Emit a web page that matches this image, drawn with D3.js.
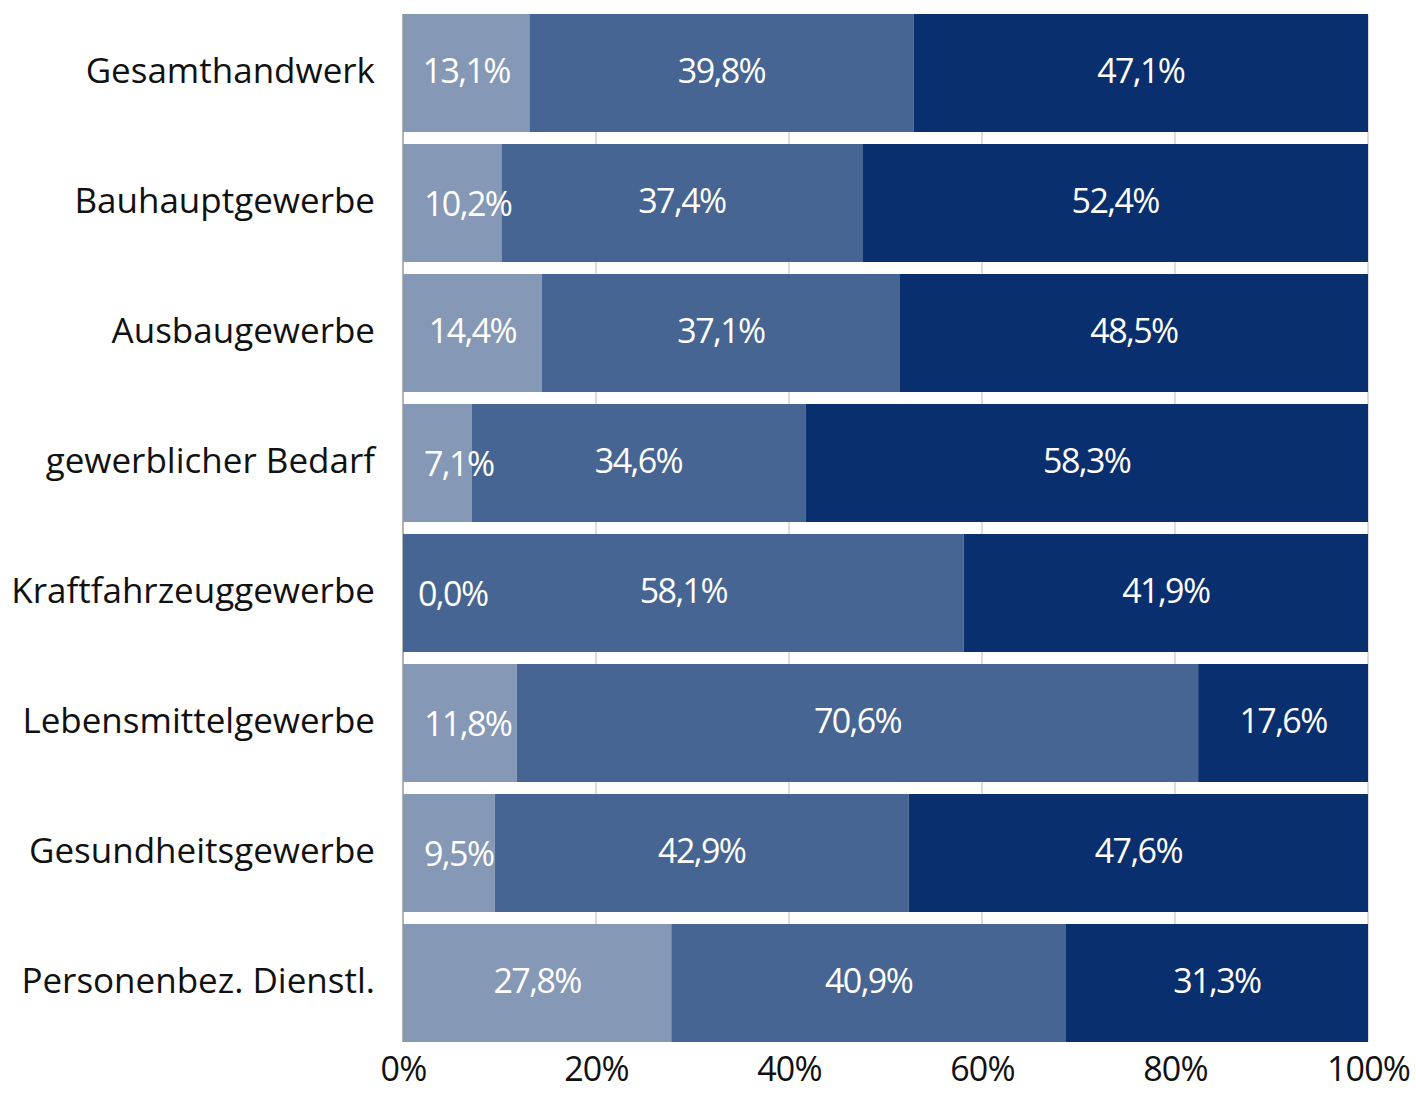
<!DOCTYPE html>
<html lang="de">
<head>
<meta charset="utf-8">
<title>Handwerk – Anteile nach Gewerbegruppen</title>
<script src="https://cdn.jsdelivr.net/npm/d3@7"></script>
<style>
  html, body { margin: 0; padding: 0; background: #fff; }
  svg { display: block; }
  text { font-family: "Open Sans", "Noto Sans", sans-serif; }
</style>
</head>
<body>
<svg id="chart" width="1416" height="1093"></svg>
<script>
// Gewerbegruppen (top to bottom)
const categories = [
  "Gesamthandwerk",
  "Bauhauptgewerbe",
  "Ausbaugewerbe",
  "gewerblicher Bedarf",
  "Kraftfahrzeuggewerbe",
  "Lebensmittelgewerbe",
  "Gesundheitsgewerbe",
  "Personenbez. Dienstl."
];

// shares in percent, one array per stacked segment (left to right)
const seriesA = [13.1, 10.2, 14.4, 7.1, 0.0, 11.8, 9.5, 27.8];
const seriesB = [39.8, 37.4, 37.1, 34.6, 58.1, 70.6, 42.9, 40.9];
const seriesC = [47.1, 52.4, 48.5, 58.3, 41.9, 17.6, 47.6, 31.3];

const tickValues = [0, 20, 40, 60, 80, 100];

const seriesColors = ["#8598b6", "#466592", "#0a2f6e"];

const svg = d3.select("#chart");

const x = d3.scaleLinear().domain([0, 100]).range([403, 1368]);
const y = d3.scaleBand()
  .domain(categories)
  .range([8, 1048])
  .paddingInner(12 / 130)
  .paddingOuter(6 / 130);

const de = d3.formatLocale({ decimal: ",", thousands: ".", grouping: [3], currency: ["", " €"] });
const pct = v => de.format(".1f")(v) + "%";

// stacked table built from the series arrays
const table = categories.map((c, i) => ({ cat: c, a: seriesA[i], b: seriesB[i], c: seriesC[i] }));
const stack = d3.stack().keys(["a", "b", "c"])(table);

const plotTop = y(categories[0]);
const plotBottom = y(categories[categories.length - 1]) + y.bandwidth();

// vertical grid lines, visible in the gaps between bars
svg.append("g")
  .selectAll("line")
  .data(tickValues)
  .join("line")
  .attr("x1", d => x(d)).attr("x2", d => x(d))
  .attr("y1", plotTop).attr("y2", plotBottom)
  .attr("stroke", (d, i) => i === 0 ? "#8a8a8a" : "#c9c9c9")
  .attr("stroke-width", 1.3);

// bars
const layers = svg.append("g")
  .selectAll("g")
  .data(stack)
  .join("g")
  .attr("fill", (d, i) => seriesColors[i]);

layers.selectAll("rect")
  .data(d => d)
  .join("rect")
  .attr("x", d => x(d[0]))
  .attr("width", d => Math.max(0, x(d[1]) - x(d[0])))
  .attr("y", d => y(d.data.cat))
  .attr("height", y.bandwidth());

// value labels: centred in the segment, or set in from the segment start when it is too narrow
const labelG = svg.append("g")
  .attr("fill", "#fff")
  .attr("font-size", 34)
  .attr("letter-spacing", -1.6);
stack.forEach(layer => {
  layer.forEach(d => {
    const v = d[1] - d[0];
    const x0 = x(d[0]), x1 = x(d[1]);
    const cy = y(d.data.cat) + y.bandwidth() / 2;
    const t = labelG.append("text").text(pct(v)).attr("y", cy + 10);
    const w = t.node().getComputedTextLength();
    if (x1 - x0 < w + 27) {
      t.attr("x", x0 + (v === 0 ? 15 : 21)).attr("text-anchor", "start").attr("y", cy + 13);
    } else {
      t.attr("x", (x0 + x1) / 2).attr("text-anchor", "middle");
    }
  });
});

// category labels
svg.append("g")
  .attr("font-size", 35)
  .attr("fill", "#111")
  .attr("text-anchor", "end")
  .selectAll("text")
  .data(categories)
  .join("text")
  .attr("x", 375)
  .attr("y", d => y(d) + y.bandwidth() / 2 + 10)
  .text(d => d);

// percentage axis
const axis = svg.append("g")
  .attr("transform", `translate(0,${plotBottom})`)
  .call(d3.axisBottom(x).tickValues(tickValues).tickFormat(d => d + "%").tickSize(0).tickPadding(15));
axis.select(".domain").remove();
axis.selectAll("text")
  .attr("font-size", 34)
  .attr("letter-spacing", -0.8)
  .attr("fill", "#111")
  .attr("font-family", "\"Open Sans\", \"Noto Sans\", sans-serif");
</script>
</body>
</html>
